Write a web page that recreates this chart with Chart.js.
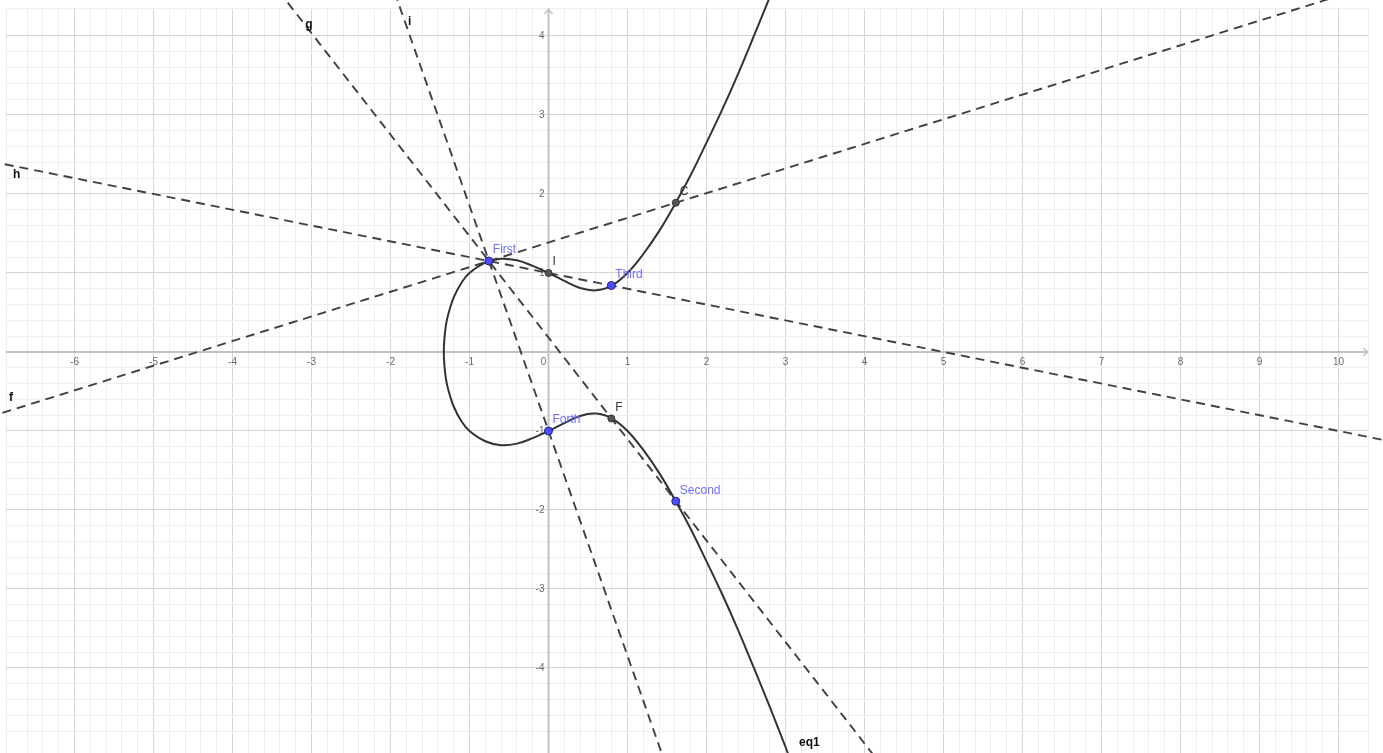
<!DOCTYPE html>
<html>
<head>
<meta charset="utf-8">
<script src="https://cdn.jsdelivr.net/npm/chart.js@4"></script>
<style>
  html, body { margin: 0; padding: 0; background: #fff; overflow: hidden; }
  #wrap { width: 1383px; height: 753px; overflow: hidden; }
</style>
</head>
<body>
<div id="wrap"><canvas id="geo" width="1383" height="758"></canvas></div>
<script>
// curve eq1, read along its path: upper branch from top right to the left tip, then lower branch down to bottom
var curveX = [2.8, 2.6, 2.4, 2.2, 2.0, 1.8, 1.6, 1.4, 1.2, 1.0, 0.8, 0.6, 0.4, 0.2, 0, -0.2, -0.4, -0.6, -0.8, -1.0, -1.1, -1.2, -1.265, -1.287, -1.304, -1.315, -1.322, -1.325,
              -1.322, -1.315, -1.304, -1.287, -1.265, -1.2, -1.1, -1.0, -0.8, -0.6, -0.4, -0.2, 0, 0.2, 0.4, 0.6, 0.8, 1.0, 1.2, 1.4, 1.6, 1.8, 2.0, 2.2, 2.4, 2.6, 2.8, 3.0, 3.1];
var curveY = [4.49, 4.00, 3.52, 3.07, 2.65, 2.24, 1.87, 1.53, 1.24, 1.00, 0.84, 0.78, 0.81, 0.90, 1.00, 1.09, 1.16, 1.18, 1.13, 1.00, 0.88, 0.69, 0.49, 0.40, 0.30, 0.20, 0.10, 0,
              -0.10, -0.20, -0.30, -0.40, -0.49, -0.69, -0.88, -1.00, -1.13, -1.18, -1.16, -1.09, -1.00, -0.90, -0.81, -0.78, -0.84, -1.00, -1.24, -1.53, -1.87, -2.24, -2.65, -3.07, -3.52, -4.00, -4.49, -5.00, -5.26];

// dashed lines f, g, h, i (two points each, beyond the visible window)
var lineNames = ['f', 'g', 'h', 'i'];
var lineX1 = [-8, -4, -8, -2.2];
var lineY1 = [-1.11, 5.32, 2.6, 5.27];
var lineX2 = [12, 5, 12, 1.7];
var lineY2 = [5.13, -6.24, -1.4, -5.84];

// points
var pointNames = ['First', 'Second', 'Third', 'Forth', 'C', 'I', 'F'];
var pointX = [-0.755, 1.611, 0.795, 0, 1.611, 0, 0.795];
var pointY = [1.151, -1.889, 0.841, -1, 1.889, 1, -0.841];
var pointFree = [true, true, true, true, false, false, false];

// object captions
var captionText = ['f', 'g', 'h', 'i', 'eq1'];
var captionX = [-6.79, -3.04, -6.74, -1.74, 3.21];
var captionY = [-0.58, 4.14, 2.24, 4.18, -4.95];

// axis tick labels
var xTickLabels = [-6, -5, -4, -3, -2, -1, 0, 1, 2, 3, 4, 5, 6, 7, 8, 9, 10];
var yTickLabels = [-4, -3, -2, -1, 1, 2, 3, 4];

var BLUE = 'rgb(77,77,255)';
var LABEL_BLUE = 'rgb(110,110,255)';
var CLIP = { left: 6, top: 8, right: 15, bottom: 6 };

function toXY(xs, ys) {
    return xs.map(function(v, k) { return { x: v, y: ys[k] }; });
}

var datasets = [];

// free points (blue), on top
datasets.push({
    data: toXY(pointX.filter(function(v, k) { return pointFree[k]; }),
               pointY.filter(function(v, k) { return pointFree[k]; })),
    pointRadius: 4, pointBackgroundColor: BLUE, pointBorderColor: '#22227a', pointBorderWidth: 1,
    showLine: false, clip: CLIP
});
// dependent points (dark gray)
datasets.push({
    data: toXY(pointX.filter(function(v, k) { return !pointFree[k]; }),
               pointY.filter(function(v, k) { return !pointFree[k]; })),
    pointRadius: 3.5, pointBackgroundColor: '#555', pointBorderColor: '#333', pointBorderWidth: 1,
    showLine: false, clip: CLIP
});
// the curve
datasets.push({
    data: toXY(curveX, curveY),
    showLine: true, borderColor: '#333', borderWidth: 2, pointRadius: 0,
    tension: 0.4, clip: CLIP
});
// the dashed lines
lineNames.forEach(function(n, k) {
    datasets.push({
        data: [{ x: lineX1[k], y: lineY1[k] }, { x: lineX2[k], y: lineY2[k] }],
        showLine: true, borderColor: '#404040', borderWidth: 1.9, borderDash: [9, 6],
        pointRadius: 0, clip: CLIP
    });
});

// axes, tick labels and captions, GeoGebra style
var geoPlugin = {
    id: 'geo',
    beforeDatasetsDraw: function(chart) {
        var ctx = chart.ctx, sx = chart.scales.x, sy = chart.scales.y, a = chart.chartArea;
        var x0 = sx.getPixelForValue(0), y0 = sy.getPixelForValue(0);
        ctx.save();
        ctx.strokeStyle = '#c2c2c2';
        ctx.lineWidth = 2;
        ctx.beginPath(); ctx.moveTo(a.left, y0); ctx.lineTo(a.right, y0); ctx.stroke();
        ctx.beginPath(); ctx.moveTo(x0, a.bottom + 6); ctx.lineTo(x0, a.top + 1); ctx.stroke();
        ctx.lineWidth = 1.5;
        ctx.beginPath(); ctx.moveTo(a.right - 5, y0 - 4); ctx.lineTo(a.right, y0); ctx.lineTo(a.right - 5, y0 + 4); ctx.stroke();
        ctx.beginPath(); ctx.moveTo(x0 - 4, a.top + 6); ctx.lineTo(x0, a.top + 1); ctx.lineTo(x0 + 4, a.top + 6); ctx.stroke();

        ctx.fillStyle = '#6a6a6a';
        ctx.font = '10px "Liberation Sans", Arial, sans-serif';
        ctx.textAlign = 'center';
        ctx.textBaseline = 'top';
        xTickLabels.forEach(function(v) {
            var px = sx.getPixelForValue(v);
            if (v === 0) px -= 5;
            ctx.fillText(String(v), px, y0 + 5);
        });
        ctx.textAlign = 'right';
        ctx.textBaseline = 'middle';
        yTickLabels.forEach(function(v) {
            ctx.fillText(String(v), x0 - 4, sy.getPixelForValue(v));
        });
        ctx.restore();
    },
    afterDatasetsDraw: function(chart) {
        var ctx = chart.ctx, sx = chart.scales.x, sy = chart.scales.y;
        ctx.save();
        ctx.textAlign = 'left';
        ctx.textBaseline = 'middle';
        ctx.font = '12px "Liberation Sans", Arial, sans-serif';
        pointNames.forEach(function(n, k) {
            ctx.fillStyle = pointFree[k] ? LABEL_BLUE : '#333';
            ctx.fillText(n, sx.getPixelForValue(pointX[k]) + 4, sy.getPixelForValue(pointY[k]) - 11);
        });
        ctx.font = 'bold 12px "Liberation Sans", Arial, sans-serif';
        ctx.fillStyle = '#111';
        captionText.forEach(function(t, k) {
            ctx.fillText(t, sx.getPixelForValue(captionX[k]) - 3, sy.getPixelForValue(captionY[k]));
        });
        ctx.restore();
    }
};

function gridColor(c) {
    if (!c.tick) return '#eeeeee';
    var v = c.tick.value;
    return Math.abs(v - Math.round(v)) < 1e-6 ? '#d4d4d4' : '#eeeeee';
}

new Chart(document.getElementById('geo').getContext('2d'), {
    type: 'scatter',
    data: { datasets: datasets },
    options: {
        responsive: false,
        animation: false,
        layout: { padding: { left: 6, top: 8, right: 15, bottom: 0 } },
        plugins: { legend: { display: false }, tooltip: { enabled: false } },
        scales: {
            x: {
                type: 'linear', min: -6.867, max: 10.373,
                ticks: { display: false, stepSize: 0.2, maxTicksLimit: 1000 },
                grid: { color: gridColor, drawTicks: false, lineWidth: 1 },
                border: { display: false },
                afterFit: function(s) { s.height = 0; }
            },
            y: {
                type: 'linear', min: -5.076, max: 4.354,
                ticks: { display: false, stepSize: 0.2, maxTicksLimit: 1000 },
                grid: { color: gridColor, drawTicks: false, lineWidth: 1 },
                border: { display: false },
                afterFit: function(s) { s.width = 0; }
            }
        }
    },
    plugins: [geoPlugin]
});
</script>
</body>
</html>
